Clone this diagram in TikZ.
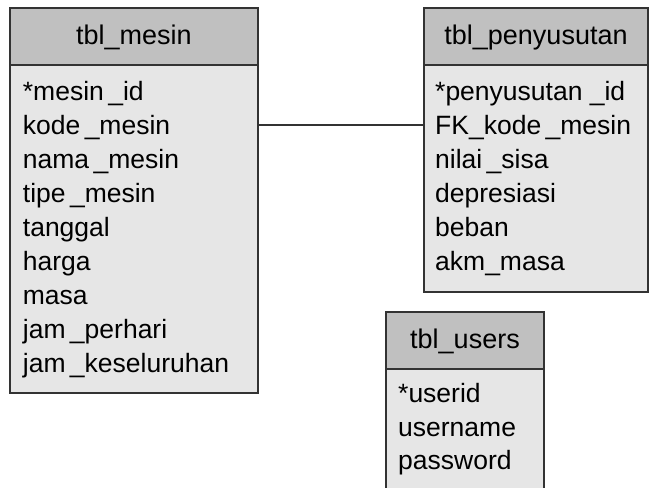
\documentclass[tikz,border=0pt]{standalone}
\usepackage{fontspec}
\setmainfont{Liberation Sans}
\definecolor{edge}{HTML}{333333}
\definecolor{hdrfill}{HTML}{C0C0C0}
\definecolor{bodyfill}{HTML}{E6E6E6}
\begin{document}
\begin{tikzpicture}[x=1pt,y=-1pt,
  tbox/.style={draw=edge,line width=1.1pt,anchor=north west,inner sep=0pt,outer sep=0pt},
  hdrbox/.style={tbox,fill=hdrfill},
  bodybox/.style={tbox,fill=bodyfill},
  title/.style={anchor=base,inner sep=0pt,font=\fontsize{27}{32}\selectfont},
  row/.style={anchor=base west,inner sep=0pt,font=\fontsize{26.5}{32}\selectfont},
  link/.style={draw=edge,line width=1.1pt}]
\useasboundingbox (0,0) rectangle (649,488);
\clip (0,0) rectangle (649,488);

% tbl_mesin
\node[bodybox,minimum width=248pt,minimum height=328pt] (mesinbody) at (10,65) {};
\node[hdrbox,minimum width=248pt,minimum height=57pt] (mesinhead) at (10,8) {};
\node[title] (mesintitle) at ([yshift=21pt]mesinhead.south) {tbl\_mesin};
\foreach \t [count=\i] in {*mesin\,\_id,kode\,\_mesin,nama\,\_mesin,tipe\,\_mesin,tanggal,harga,masa,jam\,\_perhari,jam\,\_keseluruhan}
  \node[row] (m\i) at ([xshift=12.7pt,yshift={-35.7pt-(\i-1)*34pt}]mesinbody.north west) {\t};

% tbl_penyusutan
\node[bodybox,minimum width=224pt,minimum height=227pt] (pnbody) at (424,65) {};
\node[hdrbox,minimum width=224pt,minimum height=57pt] (pnhead) at (424,8) {};
\node[title] (pntitle) at ([yshift=21pt]pnhead.south) {tbl\_penyusutan};
\foreach \t [count=\i] in {*penyusutan \_id,FK\_kode\,\_mesin,nilai\,\_sisa,depresiasi,beban,akm\_masa}
  \node[row] (p\i) at ([xshift=11pt,yshift={-35.7pt-(\i-1)*34pt}]pnbody.north west) {\t};

% tbl_users
\node[bodybox,minimum width=158pt,minimum height=140pt] (usrbody) at (386,369) {};
\node[hdrbox,minimum width=158pt,minimum height=57pt] (usrhead) at (386,312) {};
\node[title] (usrtitle) at ([yshift=21pt]usrhead.south) {tbl\_users};
\foreach \t [count=\i] in {*userid,username,password}
  \node[row] (u\i) at ([xshift=12pt,yshift={-33.7pt-(\i-1)*33.3pt}]usrbody.north west) {\t};

% relation kode_mesin -- FK_kode_mesin
\coordinate (rel) at (0,125);
\draw[link] (mesinbody.east |- rel) -- (pnbody.west |- rel);
\end{tikzpicture}
\end{document}
